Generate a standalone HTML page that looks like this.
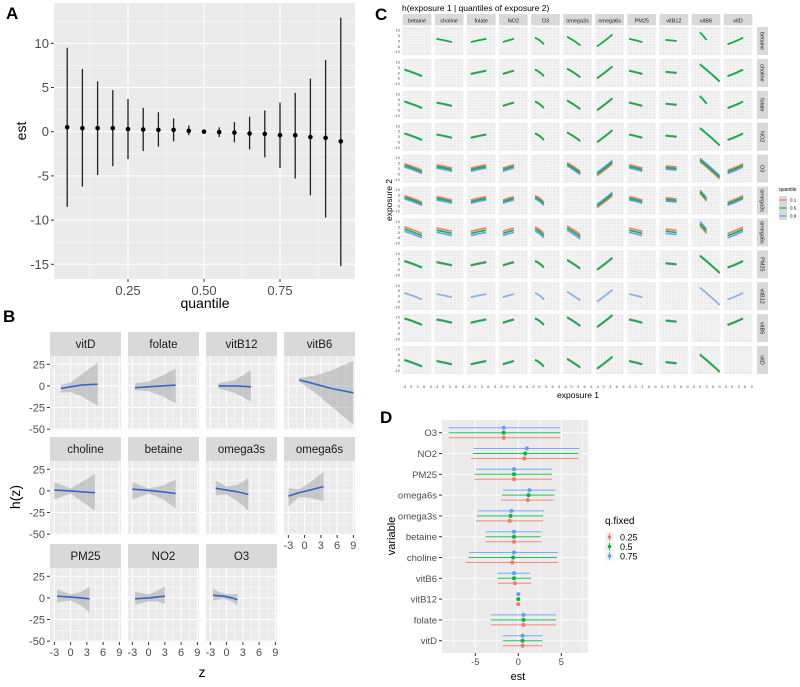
<!DOCTYPE html>
<html><head><meta charset="utf-8">
<style>
html,body{margin:0;padding:0;background:#fff;}
svg{display:block;font-family:"Liberation Sans",sans-serif;}
</style></head>
<body>
<svg id="fig" width="800" height="687" viewBox="0 0 800 687" xmlns="http://www.w3.org/2000/svg">
<text x="6" y="19" font-size="17" font-weight="bold">A</text>
<text x="3" y="322" font-size="17" font-weight="bold">B</text>
<text x="375" y="20" font-size="17" font-weight="bold">C</text>
<text x="380" y="423" font-size="17" font-weight="bold">D</text>
<g id="pa"></g>
<g id="pb"></g>
<g id="pc"></g>
<g id="pd"></g>
</svg>
<script>
// ---------- Panel A data ----------
const aQuant = [0.05,0.10,0.15,0.20,0.25,0.30,0.35,0.40,0.45,0.50,0.55,0.60,0.65,0.70,0.75,0.80,0.85,0.90,0.95];
const aEst   = [0.5,0.4,0.4,0.4,0.3,0.25,0.2,0.2,0.1,0,-0.05,-0.1,-0.2,-0.25,-0.4,-0.4,-0.6,-0.7,-1.1];
const aLo    = [-8.5,-6.2,-4.9,-3.9,-3.1,-2.2,-1.7,-1.1,-0.4,0,-0.6,-1.2,-2.0,-2.9,-4.1,-5.3,-7.2,-9.7,-15.2];
const aHi    = [9.5,7.1,5.7,4.7,3.7,2.7,2.2,1.5,0.7,0,0.5,1.1,1.7,2.4,3.3,4.4,6.0,8.1,12.9];
const aYTicks = [-15,-10,-5,0,5,10];
const aXTicks = [0.25,0.50,0.75];
const aXLabels = ["0.25","0.50","0.75"];

// ---------- Panel B data ----------
const bNames = ["vitD","folate","vitB12","vitB6","choline","betaine","omega3s","omega6s","PM25","NO2","O3"];
const bX   = [[-1.8,0,2,5],[-2.5,0,2.5,5],[-1.5,1.5,4.5],[-1,2,5,9],[-3,0,2,4.5],[-3,0,2.5,5],[-2,0,2,4],[-3,-1,1,3.5],[-2.5,0,2,3.5],[-2.5,0,1.5,3],[-2.5,-0.5,1,2]];
const bEst = [[-3,-1,1,2],[-2,-1,0,1],[0,0,-1],[7,2,-3,-8],[1,0,-1,-2],[2,0.5,-1,-3],[3,1,-1,-4],[-6,-2,1,5],[2,1,0,-1],[-1,0,1,2],[3,2,0,-2]];
const bLo  = [[-8,-7,-12,-23],[-5,-6,-12,-20],[-3,-8,-18],[5,-8,-24,-45],[-10,-3,-12,-23],[-10,-3,-9,-20],[-5,-4,-12,-23],[-18,-7,-8,-12],[-5,-3,-9,-17],[-8,-4,-4,-7],[-3,-1,-4,-9]];
const bHi  = [[1,4,13,27],[3,5,12,20],[3,7,18],[9,12,18,29],[10,3,10,20],[10,3,6,13],[12,5,7,15],[3,2,10,22],[10,4,7,13],[7,4,8,13],[10,5,4,5]];
const bYTicks = [-50,-25,0,25];
const bXTicks = [-3,0,3,6,9];

// ---------- Panel C data ----------
const cVars = ["betaine","choline","folate","NO2","O3","omega3s","omega6s","PM25","vitB12","vitB6","vitD"];
const cXStart = [-3,-3,-2,-2,-2,-2,-3,-3,-1,0,-2];
const cXEnd   = [5,4,5,3,2,4,4,3,4,9,5];
const cYStart = [3,2,-1,-1,3,4,-5,2,1,8,-3];
const cYEnd   = [-3,-1,2,2,-3,-4,6,-1,0,-8,3];
const cCurve  = [1,0.5,0.5,0.5,3,1,-1,0.5,0,1,-1];
const cRowOffset = [0,0,0,0,0,0,0,0,0,6,-3];
const cRowSpread = [0,0.3,0.3,0.3,1.5,1.5,2,0.4,0,0.4,0.4];
const cVitB6Short = [1,0,1,0,0,1,1,0,0,0,0];
const cYTicks = [-10,-5,0,5,10];
const cXTicks = [-3,0,3,6,9];
const cQuant = ["0.1","0.5","0.9"];

// ---------- Panel D data ----------
const dVars = ["O3","NO2","PM25","omega6s","omega3s","betaine","choline","vitB6","vitB12","folate","vitD"];
const dQ = ["0.25","0.5","0.75"];
const dEst25 = [-1.7,0.7,-0.5,1.1,-1.0,-0.5,-0.7,-0.4,0,0.6,0.5];
const dLo25  = [-8.1,-5.5,-5.1,-2.0,-4.9,-3.8,-6.1,-2.4,-0.1,-3.2,-1.8];
const dHi25  = [4.9,7.0,3.9,4.2,2.9,2.7,4.6,1.5,0.1,4.4,2.8];
const dEst50 = [-1.7,0.8,-0.5,1.2,-0.9,-0.5,-0.6,-0.5,0,0.6,0.5];
const dLo50  = [-8.1,-5.3,-5.1,-1.9,-4.8,-3.8,-5.8,-2.4,-0.1,-3.2,-1.8];
const dHi50  = [4.9,7.0,3.9,4.2,2.9,2.6,4.5,1.5,0.1,4.4,2.8];
const dEst75 = [-1.7,1.0,-0.5,1.3,-0.8,-0.5,-0.5,-0.5,0,0.6,0.5];
const dLo75  = [-8.1,-5.2,-4.9,-1.8,-4.7,-3.8,-5.7,-2.4,-0.1,-3.2,-1.8];
const dHi75  = [4.9,7.1,3.9,4.3,3.0,2.7,4.6,1.4,0.1,4.4,2.8];
const dXTicks = [-5,0,5];

const NS="http://www.w3.org/2000/svg";
function mk(parent, tag, attrs, text){
  const e=document.createElementNS(NS,tag);
  for(const k in attrs) e.setAttribute(k,attrs[k]);
  if(text!==undefined) e.textContent=text;
  parent.appendChild(e); return e;
}
const GREY="#ebebeb", TXT="#4d4d4d";
const QCOL=["#f8766d","#00ba38","#619cff"];

// ================= Panel A =================
(function(){
  const g=document.getElementById('pa');
  const L=54,R=355,T=3,B=279;
  const xs=v=>128+(v-0.25)*304;
  const ys=v=>131.7-v*8.84;
  const bg=mk(g,'rect',{x:L,y:T,width:R-L,height:B-T,fill:GREY});
  
  
  for(let v=-15;v<=12.5;v+=2.5){
    const maj=v%5===0;
    mk(g,'line',{x1:L,x2:R,y1:ys(v),y2:ys(v),stroke:'#fff','stroke-width':maj?1.1:0.5});
  }
  [0.125,0.25,0.375,0.5,0.625,0.75,0.875].forEach((v,i)=>{
    mk(g,'line',{x1:xs(v),x2:xs(v),y1:T,y2:B,stroke:'#fff','stroke-width':i%2?1.1:0.5});
  });
  aYTicks.forEach(v=>{
    mk(g,'line',{x1:L-3,x2:L,y1:ys(v),y2:ys(v),stroke:'#333'});
    const t=mk(g,'text',{x:L-5,y:ys(v)+4.5,'font-size':13,fill:TXT,'text-anchor':'end'},String(v));
    
    
  });
  aXTicks.forEach((v,i)=>{
    mk(g,'line',{x1:xs(v),x2:xs(v),y1:B,y2:B+3,stroke:'#333'});
    const t=mk(g,'text',{x:xs(v),y:B+16,'font-size':13,fill:TXT,'text-anchor':'middle'},aXLabels[i]);
    
    
  });
  aQuant.forEach((q,i)=>{
    const l=mk(g,'line',{x1:xs(q),x2:xs(q),y1:ys(aLo[i]),y2:ys(aHi[i]),stroke:'#222','stroke-width':1.3});
    
    
    const c=mk(g,'circle',{cx:xs(q),cy:ys(aEst[i]),r:2.3,fill:'#000'});
    
    
  });
  const xt=mk(g,'text',{x:205,y:308,'font-size':14,fill:'#000','text-anchor':'middle'},'quantile');
  
  
  const yt=mk(g,'text',{x:0,y:0,'font-size':14,fill:'#000','text-anchor':'middle',transform:'translate(26,131) rotate(-90)'},'est');
  
  
})();

// ================= Panel B =================
(function(){
  const g=document.getElementById('pb');
  const colX=[50,128,206,284], W=71;
  const stripTop=[332,437,544], stripH=24, plotH=74;
  const yMin=-51, yMax=34.6, xMin=-3.8, xMax=9.3;
  bNames.forEach((nm,i)=>{
    const r=Math.floor(i/4), c=i%4;
    const x0=colX[c], st=stripTop[r], y0=st+stripH, y1=y0+plotH;
    const xs=v=>x0+(v-xMin)/(xMax-xMin)*W;
    const ys=v=>y0+(yMax-v)/(yMax-yMin)*plotH;
    const s=mk(g,'rect',{x:x0,y:st,width:W,height:stripH,fill:'#d9d9d9'});
    
    
    const st2=mk(g,'text',{x:x0+W/2,y:st+16,'font-size':11.5,fill:'#1a1a1a','text-anchor':'middle'},nm);
    
    
    mk(g,'rect',{x:x0,y:y0,width:W,height:plotH,fill:GREY});
    for(let v=-50;v<=25;v+=12.5) mk(g,'line',{x1:x0,x2:x0+W,y1:ys(v),y2:ys(v),stroke:'#fff','stroke-width':v%25===0?1:0.5});
    for(let v=-3;v<=9;v+=1.5) mk(g,'line',{x1:xs(v),x2:xs(v),y1:y0,y2:y1,stroke:'#fff','stroke-width':v%3===0?1:0.5});
    const xv=bX[i];
    let pts=xv.map((x,k)=>xs(x)+','+ys(bHi[i][k]));
    for(let k=xv.length-1;k>=0;k--) pts.push(xs(xv[k])+','+ys(bLo[i][k]));
    const rb=mk(g,'polygon',{points:pts.join(' '),fill:'#999','fill-opacity':0.45});
    
    
    const ln=mk(g,'polyline',{points:xv.map((x,k)=>xs(x)+','+ys(bEst[i][k])).join(' '),fill:'none',stroke:'#3366cc','stroke-width':1.6});
    
    
    if(c===0){
      bYTicks.forEach(v=>{
        mk(g,'line',{x1:x0-3,x2:x0,y1:ys(v),y2:ys(v),stroke:'#333'});
        const t=mk(g,'text',{x:x0-5,y:ys(v)+4,'font-size':11,fill:TXT,'text-anchor':'end'},String(v));
        
        
      });
    }
    if(r===2 || (r===1 && c===3)){
      bXTicks.forEach(v=>{
        mk(g,'line',{x1:xs(v),x2:xs(v),y1:y1,y2:y1+3,stroke:'#333'});
        const t=mk(g,'text',{x:xs(v),y:y1+14,'font-size':11,fill:TXT,'text-anchor':'middle'},String(v));
        
        
      });
    }
  });
  const xt=mk(g,'text',{x:202,y:677,'font-size':14,fill:'#000','text-anchor':'middle'},'z');
  
  
  const yt=mk(g,'text',{x:0,y:0,'font-size':14,fill:'#000','text-anchor':'middle',transform:'translate(20,497) rotate(-90)'},'h(z)');
  
  
})();

// ================= Panel C =================
(function(){
  const g=document.getElementById('pc');
  const x00=402.7, pitchX=32.1, W=28.7, y00=27, pitchY=31.9, H=28;
  const xMin=-3.8,xMax=9.3,yMin=-13,yMax=13;
  const tt=mk(g,'text',{x:402,y:11,'font-size':8.5,fill:'#000'},'h(exposure 1 | quantiles of exposure 2)');
  
  
  cVars.forEach((nm,c)=>{
    const x0=x00+c*pitchX;
    mk(g,'rect',{x:x0,y:14,width:W,height:11.5,fill:'#d9d9d9'});
    const t=mk(g,'text',{x:x0+W/2,y:22.5,'font-size':5.5,fill:'#1a1a1a','text-anchor':'middle'},nm);
    
    
  });
  cVars.forEach((rn,r)=>{
    const y0=y00+r*pitchY;
    mk(g,'rect',{x:757,y:y0,width:11,height:H,fill:'#d9d9d9'});
    const t=mk(g,'text',{x:0,y:0,'font-size':5.5,fill:'#1a1a1a','text-anchor':'middle',transform:'translate(760.5,'+(y0+H/2)+') rotate(90)'},rn);
    
    
    const ys=v=>y0+(yMax-v)/(yMax-yMin)*H;
    cYTicks.forEach(v=>{
      mk(g,'text',{x:400,y:ys(v)+1.4,'font-size':4,fill:TXT,'text-anchor':'end'},String(v));
    });
    cVars.forEach((cn,c)=>{
      const x0=x00+c*pitchX;
      const xs=v=>x0+(v-xMin)/(xMax-xMin)*W;
      mk(g,'rect',{x:x0,y:y0,width:W,height:H,fill:GREY});
      for(let v=-3;v<=9;v+=1.5) mk(g,'line',{x1:xs(v),x2:xs(v),y1:y0,y2:y0+H,stroke:'#fff','stroke-width':0.4});
      for(let v=-10;v<=10;v+=2.5) mk(g,'line',{x1:x0,x2:x0+W,y1:ys(v),y2:ys(v),stroke:'#fff','stroke-width':0.4});
      if(r===c) return;
      let xe=cXEnd[c], ye=cYEnd[c];
      if(c===9 && cVitB6Short[r]){ xe=3; ye=1; }
      const order = (r===8)?[0,1,2]:[0,2,1];
      const cols = (r===8)?['#8fb3e8','#8fb3e8','#8fb3e8']:QCOL;
      order.forEach(q=>{
        const pts=[];
        for(let k=0;k<=8;k++){
          const t=k/8;
          const x=cXStart[c]+(xe-cXStart[c])*t;
          const y=cYStart[c]+(ye-cYStart[c])*t+cCurve[c]*t*(1-t)+cRowOffset[r]+cRowSpread[r]*(q-1)*(c===6||c===9?1:-1);
          pts.push(xs(x)+','+ys(y));
        }
        const pl=mk(g,'polyline',{points:pts.join(' '),fill:'none',stroke:cols[q],'stroke-width':1.6});
        
        
      });
    });
  });
  cVars.forEach((cn,c)=>{
    const x0=x00+c*pitchX;
    const xs=v=>x0+(v-xMin)/(xMax-xMin)*W;
    cXTicks.forEach(v=>mk(g,'text',{x:xs(v),y:388,'font-size':4,fill:TXT,'text-anchor':'middle'},String(v)));
  });
  const xt=mk(g,'text',{x:578,y:398,'font-size':8.5,fill:'#000','text-anchor':'middle'},'exposure 1');
  
  
  const yt=mk(g,'text',{x:0,y:0,'font-size':8.5,fill:'#000','text-anchor':'middle',transform:'translate(392,200) rotate(-90)'},'exposure 2');
  
  
  const lt=mk(g,'text',{x:779,y:191,'font-size':5,fill:'#000'},'quantile');
  
  
  cQuant.forEach((q,i)=>{
    const y=200+i*8;
    mk(g,'rect',{x:779,y:y-4,width:8,height:8,fill:'#d9d9d9'});
    const l=mk(g,'line',{x1:779.5,x2:786.5,y1:y,y2:y,stroke:QCOL[i],'stroke-width':1.2});
    
    
    mk(g,'text',{x:790,y:y+1.6,'font-size':4.5,fill:'#000'},q);
  });
})();

// ================= Panel D =================
(function(){
  const g=document.getElementById('pd');
  const L=442,R=588,T=420,B=653;
  const xs=v=>518.3+v*8.6;
  const ys=i=>432.7+i*20.8;
  mk(g,'rect',{x:L,y:T,width:R-L,height:B-T,fill:GREY});
  for(let v=-7.5;v<=7.5;v+=2.5) mk(g,'line',{x1:xs(v),x2:xs(v),y1:T,y2:B,stroke:'#fff','stroke-width':(v%5===0)?1:0.5});
  dVars.forEach((nm,i)=>{
    mk(g,'line',{x1:L,x2:R,y1:ys(i),y2:ys(i),stroke:'#fff','stroke-width':1});
    mk(g,'line',{x1:L-3,x2:L,y1:ys(i),y2:ys(i),stroke:'#333'});
    const t=mk(g,'text',{x:L-5,y:ys(i)+3.5,'font-size':9.5,fill:TXT,'text-anchor':'end'},nm);
    
    
  });
  dXTicks.forEach(v=>{
    mk(g,'line',{x1:xs(v),x2:xs(v),y1:B,y2:B+3,stroke:'#333'});
    const t=mk(g,'text',{x:xs(v),y:B+12,'font-size':9.5,fill:TXT,'text-anchor':'middle'},String(v));
    
    
  });
  const series=[[dEst25,dLo25,dHi25,5],[dEst50,dLo50,dHi50,0],[dEst75,dLo75,dHi75,-5]];
  series.forEach((s,q)=>{
    dVars.forEach((nm,i)=>{
      const y=ys(i)+s[3];
      const l=mk(g,'line',{x1:xs(s[1][i]),x2:xs(s[2][i]),y1:y,y2:y,stroke:QCOL[q],'stroke-width':1,'stroke-opacity':0.85});
      
      
      const c=mk(g,'circle',{cx:xs(s[0][i]),cy:y,r:2,fill:QCOL[q]});
      
      
    });
  });
  const xt=mk(g,'text',{x:518,y:680,'font-size':11,fill:'#000','text-anchor':'middle'},'est');
  
  
  const yt=mk(g,'text',{x:0,y:0,'font-size':11,fill:'#000','text-anchor':'middle',transform:'translate(395,536) rotate(-90)'},'variable');
  
  
  const lt=mk(g,'text',{x:605,y:524,'font-size':10,fill:'#000'},'q.fixed');
  
  
  dQ.forEach((q,i)=>{
    const y=537+i*9.5;
    mk(g,'rect',{x:605,y:y-4.5,width:9,height:9,fill:'#f2f2f2'});
    mk(g,'line',{x1:609.5,x2:609.5,y1:y-4,y2:y+4,stroke:QCOL[i],'stroke-width':0.8});
    const c=mk(g,'circle',{cx:609.5,cy:y,r:1.8,fill:QCOL[i]});
    
    
    mk(g,'text',{x:620,y:y+3.5,'font-size':9,fill:'#000'},q);
  });
})();
</script>
</body></html>
